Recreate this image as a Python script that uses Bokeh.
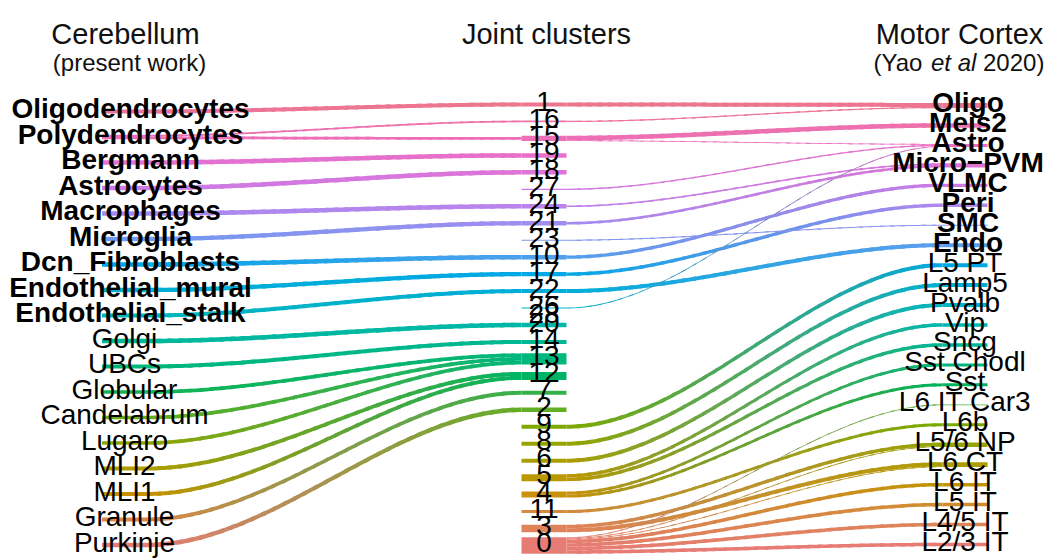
import math
from bokeh.plotting import figure
from bokeh.models import ColumnDataSource, Range1d
from bokeh.core.properties import value
from bokeh.embed import file_html
from bokeh.resources import INLINE

# ---------------- node lists (top to bottom) ----------------
cerebellum_types = [
    "Oligodendrocytes", "Polydendrocytes", "Bergmann", "Astrocytes",
    "Macrophages", "Microglia", "Dcn_Fibroblasts", "Endothelial_mural",
    "Endothelial_stalk", "Golgi", "UBCs", "Globular", "Candelabrum",
    "Lugaro", "MLI2", "MLI1", "Granule", "Purkinje",
]
cerebellum_glia = cerebellum_types[:9]

joint_clusters = [
    "1", "16", "15", "19", "18", "27", "24", "21", "23", "10", "17", "22",
    "26", "28", "20", "14", "13", "12", "7", "2", "9", "8", "6", "5", "4",
    "11", "3", "0",
]

cortex_types = [
    "Oligo", "Meis2", "Astro", "Micro\u2212PVM", "VLMC", "Peri", "SMC", "Endo",
    "L5 PT", "Lamp5", "Pvalb", "Vip", "Sncg", "Sst Chodl", "Sst",
    "L6 IT Car3", "L6b", "L5/6 NP", "L6 CT", "L6 IT", "L5 IT", "L4/5 IT",
    "L2/3 IT",
]
cortex_glia = cortex_types[:8]

# ---------------- flows: cerebellum -> joint clusters ----------------
cb_from = [
    "Oligodendrocytes", "Polydendrocytes", "Polydendrocytes", "Bergmann",
    "Astrocytes", "Macrophages", "Microglia", "Dcn_Fibroblasts",
    "Endothelial_mural", "Endothelial_stalk", "Golgi", "UBCs", "Globular",
    "Candelabrum", "Lugaro", "MLI2", "MLI1", "Granule", "Purkinje",
]
cb_to = [
    "1", "16", "15", "19", "18", "24", "21", "10", "17", "22", "20", "14",
    "13", "13", "13", "12", "12", "7", "2",
]
cb_weight = [
    4.0, 1.7, 2.7, 4.5, 4.5, 4.5, 4.3, 4.5, 4.3, 4.0, 4.5, 4.0,
    3.7, 3.7, 3.7, 4.0, 4.0, 4.0, 4.5,
]

# ---------------- flows: joint clusters -> motor cortex ----------------
jc_from = [
    "1", "16", "15", "15", "27", "26", "24", "21", "10", "17", "23", "22",
    "9", "8", "6", "5", "5", "4", "4", "11", "3", "3",
    "0", "0", "0", "0", "0", "0", "0",
]
jc_to = [
    "Oligo", "Oligo", "Meis2", "Astro", "Astro", "Astro", "Micro\u2212PVM",
    "Micro\u2212PVM", "VLMC", "Peri", "SMC", "Endo",
    "L5 PT", "Lamp5", "Pvalb", "Vip", "Sncg", "Sst Chodl", "Sst", "L6b",
    "L5/6 NP", "L6 CT",
    "L6 IT Car3", "L5/6 NP", "L6 CT", "L6 IT", "L5 IT", "L4/5 IT", "L2/3 IT",
]
jc_weight = [
    4.0, 1.2, 4.5, 0.8, 1.3, 0.9, 1.6, 2.6, 3.3, 3.4, 1.0, 4.0,
    4.0, 4.0, 4.0, 3.5, 3.5, 3.0, 3.0, 3.0, 3.5, 4.0,
    0.8, 0.8, 0.8, 3.5, 3.5, 3.5, 3.5,
]

# ---------------- layout (pixel space) ----------------
W, H = 1049, 558
COL_X = [124.0, 543.5, 964.5]
NODE_W = 45.0
COL_SPAN = [(111.0, 544.5), (104.0, 545.0), (105.0, 544.0)]
PX_PER_UNIT = 1.0
FONT = value("Liberation Sans")

columns = [cerebellum_types, joint_clusters, cortex_types]
edge_sets = [(cb_from, cb_to, cb_weight), (jc_from, jc_to, jc_weight)]


def hcl_rgb(h, c=80.0, l=64.0):
    """HCL (polar CIE-Luv) to sRGB floats, like R's hcl()."""
    hr = math.radians(h)
    u, v = c * math.cos(hr), c * math.sin(hr)
    xn, yn, zn = 95.047, 100.0, 108.883
    y = yn * ((l + 16) / 116) ** 3 if l > 8 else yn * l / 903.3
    d = xn + 15 * yn + 3 * zn
    un, vn = 4 * xn / d, 9 * yn / d
    up, vp = u / (13 * l) + un, v / (13 * l) + vn
    x = y * 9 * up / (4 * vp)
    z = y * (12 - 3 * up - 20 * vp) / (4 * vp)
    x, y, z = x / 100, y / 100, z / 100
    rgb = [
        3.2404542 * x - 1.5371385 * y - 0.4985314 * z,
        -0.9692660 * x + 1.8760108 * y + 0.0415560 * z,
        0.0556434 * x - 0.2040259 * y + 1.0572252 * z,
    ]
    out = []
    for ch in rgb:
        ch = min(1.0, max(0.0, ch))
        ch = 12.92 * ch if ch <= 0.0031308 else 1.055 * ch ** (1 / 2.4) - 0.055
        out.append(min(1.0, max(0.0, ch)))
    return out


def to_hex(rgb):
    return "#%02x%02x%02x" % tuple(int(round(255 * c)) for c in rgb)


def hue_palette(names):
    n = len(names)
    return {nm: hcl_rgb(15 + 360.0 * (n - 1 - i) / n) for i, nm in enumerate(names)}


colors = [hue_palette(names) for names in columns]

flows = []
for c, (fr, to, wt) in enumerate(edge_sets):
    for a, b, w in zip(fr, to, wt):
        flows.append((c, a, b, w * PX_PER_UNIT))

node_in, node_out = {}, {}
for c, a, b, w in flows:
    node_out[(c, a)] = node_out.get((c, a), 0.0) + w
    node_in[(c + 1, b)] = node_in.get((c + 1, b), 0.0) + w

# node centres: nodes carrying flow take a full slot, empty ones a zero-width slot
pos = {}
for c, names in enumerate(columns):
    wts = [1.0 if node_in.get((c, n), 0) + node_out.get((c, n), 0) > 0 else 0.0 for n in names]
    cum = [0.0]
    for i in range(1, len(names)):
        cum.append(cum[-1] + (wts[i - 1] + wts[i]) / 2)
    top, bot = COL_SPAN[c]
    for n, s in zip(names, cum):
        pos[(c, n)] = top + (bot - top) * s / cum[-1]

# stack ribbons at each node, ordered by the position of their other end
y_start = [0.0] * len(flows)
y_end = [0.0] * len(flows)
for c, names in enumerate(columns):
    for n in names:
        outs = [i for i, f in enumerate(flows) if f[0] == c and f[1] == n]
        outs.sort(key=lambda i: pos[(c + 1, flows[i][2])])
        y = pos[(c, n)] - sum(flows[i][3] for i in outs) / 2
        for i in outs:
            y_start[i] = y + flows[i][3] / 2
            y += flows[i][3]
        ins = [i for i, f in enumerate(flows) if f[0] == c - 1 and f[2] == n]
        ins.sort(key=lambda i: pos[(c - 1, flows[i][1])])
        y = pos[(c, n)] - sum(flows[i][3] for i in ins) / 2
        for i in ins:
            y_end[i] = y + flows[i][3] / 2
            y += flows[i][3]

p = figure(width=W, height=H, output_backend="svg", toolbar_location=None,
           x_range=Range1d(0, W), y_range=Range1d(H, 0),
           x_axis_location=None, y_axis_location=None, min_border=0)
p.xgrid.visible = False
p.ygrid.visible = False
p.outline_line_color = None
p.background_fill_color = "white"
p.border_fill_color = "white"

# ---------------- ribbons with colour gradient ----------------
K = 36
rib_xs, rib_ys, rib_col = [], [], []
for i in sorted(range(len(flows)), key=lambda i: -flows[i][3]):
    c, a, b, w = flows[i]
    x0 = COL_X[c] + NODE_W / 2
    x1 = COL_X[c + 1] - NODE_W / 2
    y0, y1 = y_start[i], y_end[i]
    ca, cb = colors[c][a], colors[c + 1][b]
    for k in range(K):
        ua = k / K
        ub = min(1.0, (k + 1.4) / K)
        us = [ua + (ub - ua) * j / 4 for j in range(5)]
        xs = [x0 + u * (x1 - x0) for u in us]
        yc = [y0 + (y1 - y0) * (3 * u * u - 2 * u ** 3) for u in us]
        rib_xs.append(xs + xs[::-1])
        rib_ys.append([y - w / 2 for y in yc] + [y + w / 2 for y in yc][::-1])
        t = (k + 0.5) / K
        rib_col.append(to_hex([ca[j] + (cb[j] - ca[j]) * t for j in range(3)]))

p.patches(xs="xs", ys="ys", fill_color="col", line_color=None,
          source=ColumnDataSource(dict(xs=rib_xs, ys=rib_ys, col=rib_col)))

# ---------------- node bars ----------------
nl, nr, nt, nb, nc = [], [], [], [], []
for c, names in enumerate(columns):
    for n in names:
        h = max(node_in.get((c, n), 0.0), node_out.get((c, n), 0.0))
        if h <= 0:
            continue
        nl.append(COL_X[c] - NODE_W / 2)
        nr.append(COL_X[c] + NODE_W / 2)
        nt.append(pos[(c, n)] - h / 2)
        nb.append(pos[(c, n)] + h / 2)
        nc.append(to_hex(colors[c][n]))
p.quad(left="l", right="r", top="t", bottom="b", fill_color="c", line_color=None,
       source=ColumnDataSource(dict(l=nl, r=nr, t=nt, b=nb, c=nc)))

# ---------------- node labels ----------------
bold_sets = [set(cerebellum_glia), set(), set(cortex_glia)]
bold_shift = [6, 0, 3]
for c, names in enumerate(columns):
    for style in ("bold", "normal"):
        sel = [n for n in names if (n in bold_sets[c]) == (style == "bold")]
        if not sel:
            continue
        src = ColumnDataSource(dict(x=[COL_X[c]] * len(sel),
                                    y=[pos[(c, n)] for n in sel], t=sel))
        p.text(x="x", y="y", text="t", source=src, text_font=FONT,
               text_font_size="28px", text_font_style=style, text_color="black",
               text_align="center", text_baseline="middle",
               x_offset=bold_shift[c] if style == "bold" else 0, y_offset=-3)

# ---------------- column headings ----------------
def heading(x, y, txt, size, align="center", style="normal"):
    p.text(x=[x], y=[y], text=[txt], text_font=FONT, text_font_size=size,
           text_font_style=style, text_color="#111111", text_align=align,
           text_baseline="alphabetic")

heading(125, 33, "Cerebellum", "29px")
heading(129, 62, "(present work)", "24px")
heading(546, 33, "Joint clusters", "29px")
heading(959, 33, "Motor Cortex", "29px")
heading(873, 62, "(Yao", "24px", align="left")
heading(930.5, 62, "et al", "24px", align="left", style="italic")
heading(982.5, 62, "2020)", "24px", align="left")

open("out.html", "w").write(file_html(p, INLINE))
